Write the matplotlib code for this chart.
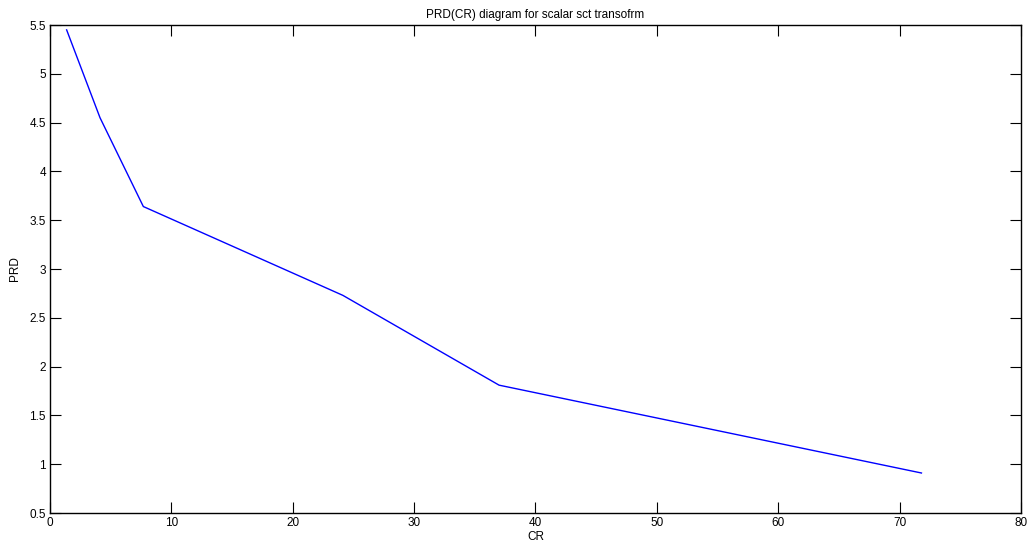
import matplotlib
matplotlib.use('Agg')
import matplotlib.pyplot as plt

plt.rcParams['font.family'] = ['Liberation Sans', 'DejaVu Sans']

cr = [1.37, 4.12, 7.69, 24.13, 37.0, 71.8]
prd = [5.45, 4.55, 3.64, 2.73, 1.81, 0.91]

x_ticks = [0, 10, 20, 30, 40, 50, 60, 70, 80]
y_ticks = [0.5, 1, 1.5, 2, 2.5, 3, 3.5, 4, 4.5, 5, 5.5]

fig = plt.figure(figsize=(10.29, 5.46), dpi=100)
ax = fig.add_axes([0.0486, 0.0604, 0.9436, 0.8938])
ax.plot(cr, prd, color='blue', linewidth=1)

ax.set_xlim(0, 80)
ax.set_ylim(0.5, 5.5)
ax.set_xticks(x_ticks)
ax.set_yticks(y_ticks)
ax.set_yticklabels(['0.5', '1', '1.5', '2', '2.5', '3', '3.5', '4', '4.5', '5', '5.5'])
ax.tick_params(direction='in', top=True, right=True, length=8, width=0.8,
               labelsize=8.5, pad=3)
for s in ax.spines.values():
    s.set_linewidth(1)

ax.set_title('PRD(CR) diagram for scalar sct transofrm', fontsize=8.5, pad=5)
ax.set_xlabel('CR', fontsize=8.5, labelpad=1)
ax.set_ylabel('PRD', fontsize=8.5, labelpad=6)

fig.savefig('out.png', dpi=100)
